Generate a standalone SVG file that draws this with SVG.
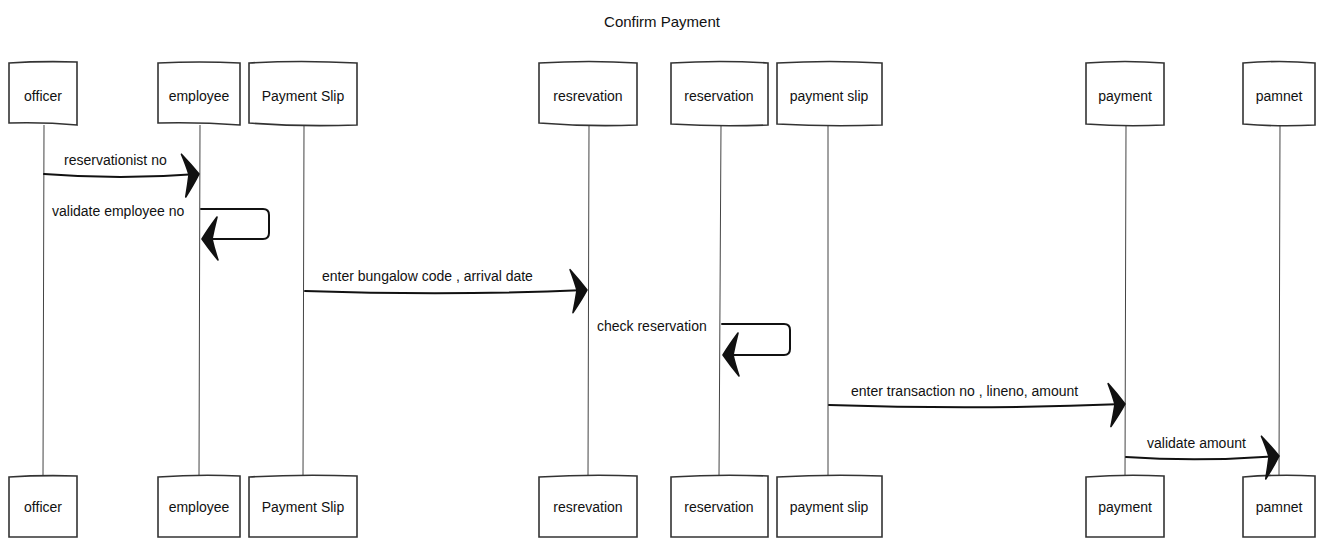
<svg xmlns="http://www.w3.org/2000/svg" width="1323" height="538" viewBox="0 0 1323 538">
<style>
.box{fill:#fff;stroke:#333;stroke-width:1.6}
.life{fill:none;stroke:#444;stroke-width:1}
.msg{fill:none;stroke:#111;stroke-width:2;stroke-linecap:round}
.t{font-family:"Liberation Sans",Arial,sans-serif;font-size:14px;fill:#111;text-anchor:middle}
.lbl{font-family:"Liberation Sans",Arial,sans-serif;font-size:14px;fill:#111}
.title{font-family:"Liberation Sans",Arial,sans-serif;font-size:15px;fill:#111;text-anchor:middle}
</style>
<defs>
<marker id="ah" markerUnits="userSpaceOnUse" markerWidth="44" markerHeight="56" viewBox="-22 -28 44 56" refX="0" refY="0" orient="auto">
<path d="M1,0 Q-6,-10 -15,-21 Q-11,-9 -9,0 Q-11,10 -14,22 Q-5,10 1,0 Z" fill="#111" stroke="#111" stroke-width="1.6" stroke-linejoin="round"/>
</marker>
</defs>
<rect width="1323" height="538" fill="#fff"/>
<text class="title" x="662" y="27">Confirm Payment</text>

<g id="lifelines">
<path class="life" d="M44,125 L43,476"/>
<path class="life" d="M200,125 L199,476"/>
<path class="life" d="M304,125 L303,476"/>
<path class="life" d="M589,125 L588,476"/>
<path class="life" d="M721,125 L719,476"/>
<path class="life" d="M828,125 L828,476"/>
<path class="life" d="M1126,125 L1125,476"/>
<path class="life" d="M1280,125 L1279,476"/>
</g>

<g id="officer">
<path class="box" d="M9,63 Q40,61 77,62 L77,125 Q45,122 9,123 Z"/>
<text class="t" x="43" y="101">officer</text>
<path class="box" d="M9,477 Q40,475 77,476 L77,537 L9,537 Z"/>
<text class="t" x="43" y="512">officer</text>
</g>
<g id="employee">
<path class="box" d="M158,63 Q200,61 240,63 L240,125 Q200,122 158,123 Z"/>
<text class="t" x="199" y="101">employee</text>
<path class="box" d="M158,477 Q200,474 240,476 L240,537 L158,537 Z"/>
<text class="t" x="199" y="512">employee</text>
</g>
<g id="payment-slip-1">
<path class="box" d="M249,63 Q300,60 357,63 L357,125 Q300,127 249,123 Z"/>
<text class="t" x="303" y="101">Payment Slip</text>
<path class="box" d="M249,477 Q300,474 357,476 L357,537 L249,537 Z"/>
<text class="t" x="303" y="512">Payment Slip</text>
</g>
<g id="resrevation">
<path class="box" d="M539,63 Q590,60 637,63 L637,125 Q590,127 539,123 Z"/>
<text class="t" x="588" y="101">resrevation</text>
<path class="box" d="M539,477 Q590,474 637,476 L637,537 L539,537 Z"/>
<text class="t" x="588" y="512">resrevation</text>
</g>
<g id="reservation">
<path class="box" d="M671,63 Q720,60 768,63 L768,125 Q720,127 671,124 Z"/>
<text class="t" x="719" y="101">reservation</text>
<path class="box" d="M671,477 Q720,474 768,476 L768,537 L671,537 Z"/>
<text class="t" x="719" y="512">reservation</text>
</g>
<g id="payment-slip-2">
<path class="box" d="M777,63 Q830,60 882,63 L882,125 Q830,127 777,124 Z"/>
<text class="t" x="829" y="101">payment slip</text>
<path class="box" d="M777,477 Q830,474 882,476 L882,537 L777,537 Z"/>
<text class="t" x="829" y="512">payment slip</text>
</g>
<g id="payment">
<path class="box" d="M1086,63 Q1125,60 1164,63 L1164,125 Q1125,127 1086,124 Z"/>
<text class="t" x="1125" y="101">payment</text>
<path class="box" d="M1086,477 Q1125,474 1164,476 L1164,537 L1086,537 Z"/>
<text class="t" x="1125" y="512">payment</text>
</g>
<g id="pamnet">
<path class="box" d="M1243,63 Q1280,60 1315,63 L1315,125 Q1280,127 1243,124 Z"/>
<text class="t" x="1279" y="101">pamnet</text>
<path class="box" d="M1243,477 Q1280,474 1315,476 L1315,537 L1243,537 Z"/>
<text class="t" x="1279" y="512">pamnet</text>
</g>

<g id="connectors">
<path class="msg" d="M44,174 Q120,180 198,174" marker-end="url(#ah)"/>
<text class="lbl" x="64" y="165">reservationist no</text>

<path class="msg" d="M201,209 L263,209 Q269,209 269,215 L269,233 Q269,239 263,239 L203,239" marker-end="url(#ah)"/>
<text class="lbl" x="52" y="216">validate employee no</text>

<path class="msg" d="M305,291 Q450,296 586,290" marker-end="url(#ah)"/>
<text class="lbl" x="322" y="281">enter bungalow code , arrival date</text>

<path class="msg" d="M722,324 L784,324 Q790,324 790,330 L790,349 Q790,355 784,355 L724,355" marker-end="url(#ah)"/>
<text class="lbl" x="597" y="331">check reservation</text>

<path class="msg" d="M829,405 Q980,410 1124,404" marker-end="url(#ah)"/>
<text class="lbl" x="851" y="396">enter transaction no , lineno, amount</text>

<path class="msg" d="M1126,457 Q1200,462 1278,456" marker-end="url(#ah)"/>
<text class="lbl" x="1147" y="448">validate amount</text>
</g>
</svg>
